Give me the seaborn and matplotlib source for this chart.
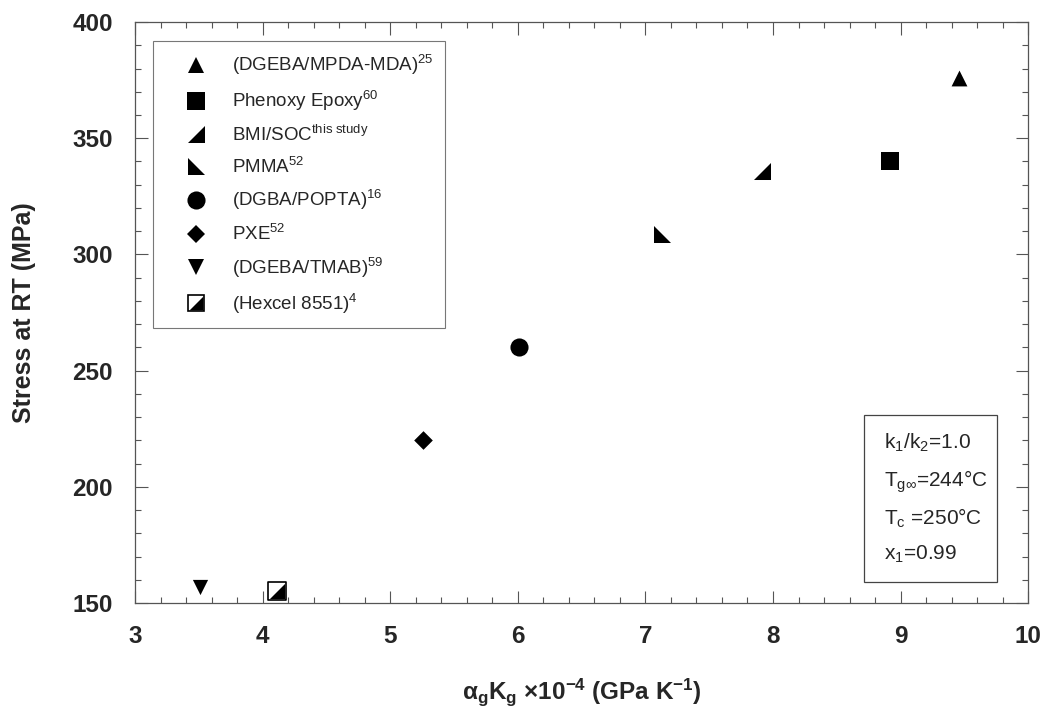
import numpy as np
import pandas as pd
import seaborn as sns
from matplotlib import pyplot as plt
from matplotlib.lines import Line2D
from matplotlib.patches import Rectangle

# data
materials = ['(DGEBA/MPDA-MDA)', 'Phenoxy Epoxy', 'BMI/SOC', 'PMMA',
             '(DGBA/POPTA)', 'PXE', '(DGEBA/TMAB)', '(Hexcel 8551)']
refs = ['25', '60', 'this\\ study', '52', '16', '52', '59', '4']
alpha_k = [9.46, 8.92, 7.91, 7.13, 6.01, 5.26, 3.51, 4.11]
stress = [376, 340, 336, 309, 260, 220, 157, 155]

info_lines = [r'k$_\mathrm{1}$/k$_\mathrm{2}$=1.0', r'T$_\mathrm{g\infty}$=244°C',
              r'T$_\mathrm{c}$ =250°C', r'x$_\mathrm{1}$=0.99']

sns.set_theme(style='ticks')
plt.rcParams['font.family'] = ['Liberation Sans', 'DejaVu Sans']
plt.rcParams['mathtext.fontset'] = 'custom'
plt.rcParams['mathtext.rm'] = 'Liberation Sans'
plt.rcParams['mathtext.it'] = 'Liberation Sans:italic'
plt.rcParams['mathtext.bf'] = 'Liberation Sans:bold'

# custom half triangles
tri_br = [(-1, -1), (1, -1), (1, 1), (-1, -1)]   # right angle bottom right
tri_bl = [(-1, -1), (1, -1), (-1, 1), (-1, -1)]  # right angle bottom left
markers = ['^', 's', tri_br, tri_bl, 'o', 'D', 'v', 's']
sizes = [130, 150, 150, 150, 170, 90, 120, 150]

df = pd.DataFrame({'material': materials, 'x': alpha_k, 'y': stress})

fig = plt.figure(figsize=(10.41, 7.15), dpi=100)
ax = fig.add_axes([0.1297, 0.1566, 0.858, 0.8126])

handles = []
for i, row in df.iterrows():
    if i == 7:
        # Hexcel: open square with filled lower-right half
        sns.scatterplot(x=[row.x], y=[row.y], marker='s', s=sizes[i], color='white',
                        edgecolor='black', linewidth=1.2, ax=ax, zorder=3)
        sns.scatterplot(x=[row.x], y=[row.y], marker=tri_br, s=sizes[i] * 0.8, color='black',
                        edgecolor='black', linewidth=0, ax=ax, zorder=4)
        h = (Line2D([], [], marker='s', ls='', ms=11, mfc='white', mec='black', mew=1.2),
             Line2D([], [], marker=tri_br, ls='', ms=10, mfc='black', mec='black', mew=0))
    else:
        sns.scatterplot(x=[row.x], y=[row.y], marker=markers[i], s=sizes[i], color='black',
                        edgecolor='black', linewidth=0, ax=ax, zorder=3)
        ms = np.sqrt(sizes[i])
        h = Line2D([], [], marker=markers[i], ls='', ms=ms * 1.0, mfc='black', mec='black', mew=0)
    handles.append(h)

labels = [f'{m}$^{{\\mathrm{{{r}}}}}$' for m, r in zip(materials, refs)]
leg = ax.legend(handles, labels, loc='upper left', bbox_to_anchor=(0.02, 0.967),
                frameon=True, fancybox=False, edgecolor='#555555', fontsize=13.5,
                labelspacing=0.62, handletextpad=0.25, borderpad=0.65, handlelength=3.3,
                borderaxespad=0)
leg.get_frame().set_linewidth(0.8)

# info box (axes fraction)
ax.add_patch(Rectangle((0.816, 0.036), 0.149, 0.288, transform=ax.transAxes,
                       fill=True, fc='white', ec='#444444', lw=0.9, zorder=5))
for k, (txt, yy) in enumerate(zip(info_lines, [0.276, 0.208, 0.146, 0.083])):
    ax.text(0.839, yy, txt, transform=ax.transAxes, fontsize=15, va='center', ha='left', zorder=6)

ax.set_xlim(3, 10)
ax.set_ylim(150, 400)
ax.set_xticks(range(3, 11))
ax.set_yticks(range(150, 401, 50))
ax.set_xticks(np.arange(3, 10.01, 0.2), minor=True)
ax.set_yticks(range(150, 401, 10), minor=True)
ax.tick_params(which='both', direction='in', top=True, right=True, color='#555555', width=0.8)
ax.tick_params(which='major', length=9, pad=16)
ax.tick_params(which='minor', length=4)
for lab in ax.get_xticklabels() + ax.get_yticklabels():
    lab.set_fontweight('bold')
    lab.set_fontsize(17.5)
for sp in ax.spines.values():
    sp.set_color('#555555')
    sp.set_linewidth(0.9)

ax.set_xlabel('α$_\\mathbf{g}$$\\mathbf{K_g}$ ×10$^{\\mathbf{-4}}$ (GPa K$^{\\mathbf{-1}}$)',
              fontsize=17.5, fontweight='bold', labelpad=20)
ax.set_ylabel('Stress at RT (MPa)', fontsize=18, fontweight='bold', labelpad=26)

fig.savefig('out.png', dpi=100)
